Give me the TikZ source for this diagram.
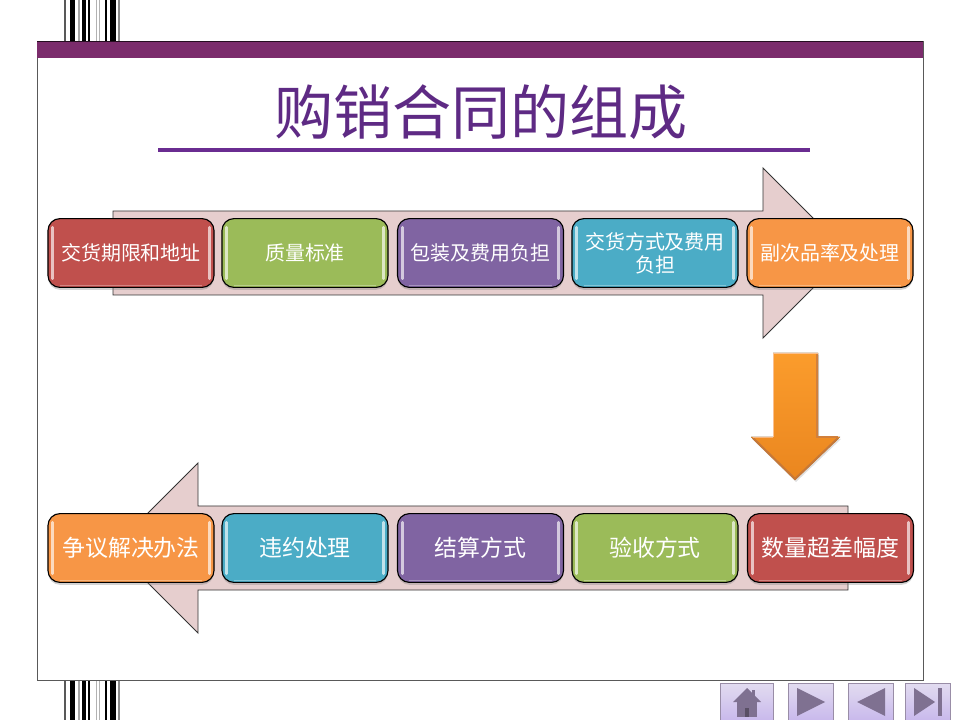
\documentclass[tikz,border=0pt]{standalone}
\usepackage{fontspec}
\usepackage{tikz}
\usetikzlibrary{shadows}
\newfontfamily\cjk{Noto Sans CJK SC}
\definecolor{barpurple}{HTML}{7B2C6C}
\definecolor{titlepurple}{HTML}{5E2A84}
\definecolor{rulepurple}{HTML}{6A2C91}
\definecolor{arrowpink}{HTML}{E6CECE}
\definecolor{stagered}{HTML}{C0504D}
\definecolor{stagegreen}{HTML}{9BBB59}
\definecolor{stagepurple}{HTML}{8064A2}
\definecolor{stageaqua}{HTML}{4BACC6}
\definecolor{stageorange}{HTML}{F79646}
\definecolor{turntop}{HTML}{FB9C2C}
\definecolor{turnbot}{HTML}{EA861F}
\definecolor{navglyph}{HTML}{7F7191}
\definecolor{navtop}{HTML}{E2DCF0}
\definecolor{navbot}{HTML}{C9B9EC}

\begin{document}
\begin{tikzpicture}[
  x=0.025cm, y=-0.025cm,
  stage/.style={draw=black, line width=0.8pt, rounded corners=0.3cm, minimum width=4.15cm, minimum height=1.72cm, inner sep=0pt, align=center, text width=3.75cm, text=white, fill=#1,
    drop shadow={opacity=0.35, shadow xshift=0cm, shadow yshift=-0.06cm},
    path picture={
      \draw[#1!70!white, line width=0.04cm]
        ([xshift=0.3cm, yshift=0.05cm]path picture bounding box.south west) -- ([xshift=-0.3cm, yshift=0.05cm]path picture bounding box.south east);
      \draw[#1!35!white, line width=0.07cm, line cap=round]
        ([xshift=0.12cm, yshift=-0.22cm]path picture bounding box.north west) -- ([xshift=0.12cm, yshift=0.22cm]path picture bounding box.south west)
        ([xshift=-0.12cm, yshift=-0.22cm]path picture bounding box.north east) -- ([xshift=-0.12cm, yshift=0.22cm]path picture bounding box.south east);
    }},
  small/.style={font=\cjk\fontsize{14.2}{16.4}\selectfont},
  large/.style={font=\cjk\fontsize{16.3}{19}\selectfont},
  flow/.style={draw=black!80, line width=0.6pt, fill=arrowpink},
  navbtn/.style={draw=navglyph!80, line width=0.6pt, top color=navtop, bottom color=navbot},
]
\useasboundingbox (0,0) rectangle (960,720);

% Barcode strips
\foreach \y/\h in {0/41, 680/40} {
  \foreach \x/\w/\c in {63.5/2.5/black!65, 69.5/5/black, 78/2/black!35, 82/3.5/black, 87.5/2/black, 95.5/1/black!30, 98.5/1/black!30, 105/2/black, 110/5.5/black, 117.5/2/black!45} {
    \fill[\c] (\x,\y) rectangle ++(\w,\h);
  }
}

% Frame and title
\draw[black!65, line width=0.7pt] (37,41) rectangle (923,680);
\fill[barpurple] (37,41) rectangle (923,58);
\draw[black!70!barpurple, line width=0.5pt] (37,41) -- (923,41);
\node[font=\cjk\fontsize{42}{50}\selectfont, text=titlepurple, inner sep=0pt] (title) at (481,112) {购销合同的组成};
\draw[rulepurple, line width=0.085cm] (158,150) -- (810,150);

% Flow arrows
\draw[flow] (113,211) -- (763,211) -- (763,168) -- (848,253) -- (763,338) -- (763,295) -- (113,295) -- cycle;
\draw[flow] (848,506) -- (198,506) -- (198,463) -- (113,548) -- (198,633) -- (198,590) -- (848,590) -- cycle;

% Upper row
\node[stage=stagered, small] (delivery) at (131,253) {交货期限和地址};
\node[stage=stagegreen, small] (quality) at (305,253) {质量标准};
\node[stage=stagepurple, small] (packing) at (480.5,253) {包装及费用负担};
\node[stage=stageaqua, small] (handover) at (655,253) {交货方式及费用\\负担};
\node[stage=stageorange, small] (defects) at (830,253) {副次品率及处理};

% Lower row
\node[stage=stageorange, large] (dispute) at (131,548) {争议解决办法};
\node[stage=stageaqua, large] (breach) at (305,548) {违约处理};
\node[stage=stagepurple, large] (payment) at (480.5,548) {结算方式};
\node[stage=stagegreen, large] (inspect) at (655,548) {验收方式};
\node[stage=stagered, large] (quantity) at (830.5,548) {数量超差幅度};

% Turn arrow
\fill[black, opacity=0.12] (774,355) -- (819,355) -- (819,439) -- (841,439) -- (796,482) -- (752,439) -- (774,439) -- cycle;
\fill[top color=turntop, bottom color=turnbot] (773,353) -- (818,353) -- (818,437) -- (840,437) -- (795,480) -- (751,437) -- (773,437) -- cycle;
\draw[stageorange!60!white, line width=0.04cm] (773.5,437) -- (773.5,353.5) -- (817.5,353.5);
\draw[stageorange!85!black, line width=0.05cm] (817,354) -- (817,437.5) -- (838,437.5);
\draw[stageorange!80!black, line width=0.05cm] (838,438) -- (795,479) -- (753,438);
\draw[stageorange!70!white, line width=0.04cm] (753,437.5) -- (773,437.5);

% Nav buttons
\draw[navbtn] (720,683) rectangle (773,720);
\draw[navbtn] (788,683) rectangle (833,720);
\draw[navbtn] (848,683) rectangle (893,720);
\draw[navbtn] (905,683) rectangle (950,720);
\fill[navglyph] (752,690) rectangle (755,698);
\fill[navglyph] (747,688) -- (761,702) -- (733,702) -- cycle;
\fill[navglyph] (737,702) rectangle (757,717);
\fill[navglyph!70!black] (745,708) rectangle (749,717);
\fill[navglyph] (797,688) -- (825,702) -- (797,716) -- cycle;
\fill[navglyph] (885,688) -- (857,702) -- (885,716) -- cycle;
\fill[navglyph] (914,688) -- (935,702) -- (914,716) -- cycle;
\fill[navglyph] (938,688) rectangle (942,716);

\end{tikzpicture}
\end{document}
